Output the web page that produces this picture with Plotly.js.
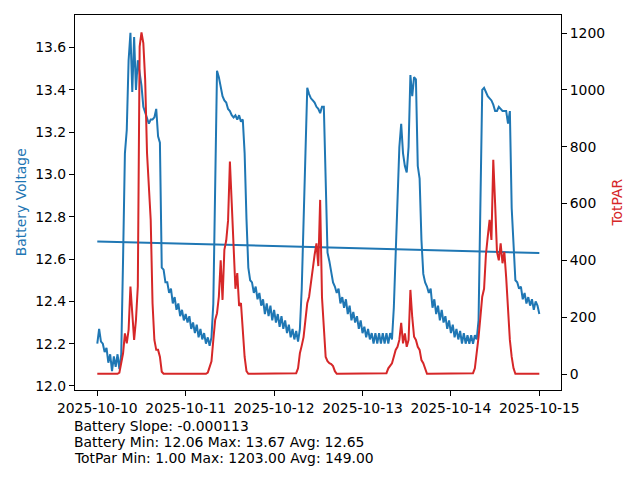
<!DOCTYPE html>
<html>
<head>
<meta charset="utf-8">
<script src="https://cdn.plot.ly/plotly-3.0.1.min.js"></script>
<style>html,body{margin:0;padding:0;background:#fff;}#chart{width:640px;height:480px;}</style>
</head>
<body>
<div id="chart"></div>
<script>
// Sampling: one reading every 30 minutes starting 2025-10-10 00:00
const startTime = '2025-10-10T00:00:00';
const stepMinutes = 30;

// Battery voltage (V), 241 readings
const batteryVoltage = [
  12.20,12.27,12.21,12.20,12.16,12.18,12.11,12.15,12.07,12.14,
  12.09,12.15,12.08,12.15,12.60,13.10,13.21,13.54,13.67,13.39,
  13.65,13.40,13.54,13.49,13.42,13.32,13.29,13.26,13.24,13.26,
  13.26,13.27,13.31,13.18,13.15,12.56,12.55,12.49,12.49,12.44,
  12.46,12.39,12.42,12.36,12.39,12.33,12.36,12.31,12.34,12.30,
  12.33,12.27,12.30,12.25,12.29,12.23,12.27,12.22,12.25,12.20,
  12.23,12.19,12.23,12.39,12.94,13.49,13.46,13.41,13.37,13.35,
  13.34,13.31,13.30,13.28,13.27,13.28,13.26,13.28,13.25,13.26,
  13.10,12.79,12.56,12.50,12.49,12.44,12.47,12.41,12.44,12.38,
  12.41,12.34,12.39,12.33,12.38,12.31,12.36,12.30,12.34,12.28,
  12.33,12.27,12.31,12.25,12.29,12.23,12.27,12.22,12.26,12.21,
  12.27,12.46,12.75,13.11,13.41,13.38,13.36,13.35,13.34,13.32,
  13.31,13.29,13.32,13.32,12.91,12.63,12.59,12.54,12.49,12.47,
  12.44,12.46,12.39,12.42,12.37,12.41,12.34,12.38,12.31,12.35,
  12.30,12.33,12.27,12.31,12.25,12.28,12.23,12.27,12.22,12.25,
  12.20,12.25,12.20,12.25,12.20,12.25,12.20,12.25,12.20,12.25,
  12.22,12.37,12.63,12.91,13.13,13.24,13.10,13.04,13.01,13.13,
  13.47,13.37,13.46,13.45,13.04,12.98,12.69,12.53,12.49,12.47,
  12.44,12.46,12.37,12.41,12.34,12.38,12.31,12.36,12.30,12.33,
  12.27,12.31,12.25,12.29,12.23,12.27,12.22,12.26,12.20,12.25,
  12.20,12.24,12.20,12.24,12.20,12.24,12.22,12.31,12.94,13.40,
  13.41,13.39,13.37,13.36,13.35,13.33,13.30,13.30,13.32,13.31,
  13.30,13.30,13.30,13.24,13.30,12.84,12.63,12.50,12.49,12.46,
  12.47,12.41,12.44,12.39,12.42,12.38,12.41,12.36,12.40,12.38,
  12.34
];

// Total PAR, 241 readings
const totPAR = [
  1,1,1,1,1,1,1,1,1,1,
  1,1,5,38,73,143,108,155,308,214,
  120,190,308,1153,1203,1165,1036,778,660,543,
  249,120,85,85,61,8,1,1,1,1,
  1,1,1,1,1,1,1,1,1,1,
  1,1,1,1,1,1,1,1,1,1,
  5,25,45,120,190,214,272,400,261,437,
  470,540,748,601,425,300,355,240,250,131,
  60,10,1,1,1,1,1,1,1,1,
  1,1,1,1,1,1,1,1,1,1,
  1,1,1,1,1,1,1,1,3,20,
  73,100,130,190,249,272,330,370,420,460,
  380,613,270,150,60,45,38,35,28,10,
  1,1,1,1,1,1,1,1,1,1,
  1,1,1,1,1,1,1,1,1,1,
  1,1,1,1,1,1,1,3,20,30,
  38,61,85,96,120,180,108,143,96,120,
  296,200,131,120,96,85,49,38,20,1,
  1,1,1,1,1,1,1,1,1,1,
  1,1,1,1,1,1,1,1,1,1,
  1,1,1,1,3,20,70,130,200,272,
  300,420,484,543,472,754,600,430,400,460,
  390,430,340,210,120,60,20,1,1,1,
  1,1,1,1,1,1,1,1,1,1,
  1
];

// Battery trend line (end points as read)
const trendTimes = ['2025-10-10 00:00:00', '2025-10-15 00:00:00'];
const trendValues = [12.683, 12.629];

// Tick labels
const xTickVals = ['2025-10-10','2025-10-11','2025-10-12','2025-10-13','2025-10-14','2025-10-15'];
const xTickText = ['2025-10-10','2025-10-11','2025-10-12','2025-10-13','2025-10-14','2025-10-15'];

// Summary text
const statLines = [
  'Battery Slope: -0.000113',
  'Battery Min: 12.06 Max: 13.67 Avg: 12.65',
  'TotPar Min: 1.00 Max: 1203.00 Avg: 149.00'
];

function pad(n){ return (n < 10 ? '0' : '') + n; }
const t0 = new Date(startTime + 'Z').getTime();
const times = batteryVoltage.map(function(_, i){
  const d = new Date(t0 + i * stepMinutes * 60000);
  return d.getUTCFullYear() + '-' + pad(d.getUTCMonth()+1) + '-' + pad(d.getUTCDate()) + ' ' +
         pad(d.getUTCHours()) + ':' + pad(d.getUTCMinutes()) + ':00';
});

const BLUE = '#1f77b4', RED = '#d62728';
const FONT = 'DejaVu Sans, sans-serif';
const FS = 13.9;

const traces = [
  { x: times, y: batteryVoltage, type: 'scatter', mode: 'lines', line: {color: BLUE, width: 2}, yaxis: 'y', hoverinfo: 'skip' },
  { x: trendTimes, y: trendValues, type: 'scatter', mode: 'lines', line: {color: BLUE, width: 2}, yaxis: 'y', hoverinfo: 'skip' },
  { x: times, y: totPAR, type: 'scatter', mode: 'lines', line: {color: RED, width: 2}, yaxis: 'y2', hoverinfo: 'skip' }
];

const axisCommon = {
  showgrid: false, zeroline: false, showline: true, linecolor: '#000', linewidth: 1,
  ticks: 'outside', ticklen: 5, tickwidth: 1, tickcolor: '#000',
  tickfont: {family: FONT, size: FS, color: '#000'}
};

const plotH = 480 - 15 - 90;
const annotations = [
  { text: 'Battery Voltage', textangle: -90, xref: 'paper', yref: 'paper',
    x: (20.7 - 75) / 486, y: 0.5, xanchor: 'center', yanchor: 'middle', showarrow: false,
    font: {family: FONT, size: FS, color: BLUE} },
  { text: 'TotPAR', textangle: -90, xref: 'paper', yref: 'paper',
    x: (616 - 75) / 486, y: 0.5, xanchor: 'center', yanchor: 'middle', showarrow: false,
    font: {family: FONT, size: FS, color: RED} }
];
const lineCenters = [425.5, 441.5, 457.5];
statLines.forEach(function(s, i){
  annotations.push({ text: s, xref: 'paper', yref: 'paper', x: -3 / 486, y: (390 - lineCenters[i]) / plotH,
    xanchor: 'left', yanchor: 'middle', showarrow: false, align: 'left',
    font: {family: FONT, size: FS, color: '#000'} });
});

const layout = {
  width: 640, height: 480,
  margin: {l: 75, r: 79, t: 15, b: 90, pad: 0},
  paper_bgcolor: '#fff', plot_bgcolor: '#fff',
  showlegend: false,
  font: {family: FONT, size: FS, color: '#000'},
  xaxis: Object.assign({}, axisCommon, {
    type: 'date', range: ['2025-10-09 17:57:00', '2025-10-15 05:53:00'],
    tickmode: 'array', tickvals: xTickVals, ticktext: xTickText, mirror: true
  }),
  yaxis: Object.assign({}, axisCommon, {
    range: [11.981, 13.754], tickmode: 'linear', tick0: 12.0, dtick: 0.2, tickformat: '.1f'
  }),
  yaxis2: Object.assign({}, axisCommon, {
    overlaying: 'y', side: 'right', range: [-56.3, 1264], tickmode: 'linear', tick0: 0, dtick: 200
  }),
  annotations: annotations
};

Plotly.newPlot('chart', traces, layout, {staticPlot: true, displayModeBar: false});
</script>
</body>
</html>
